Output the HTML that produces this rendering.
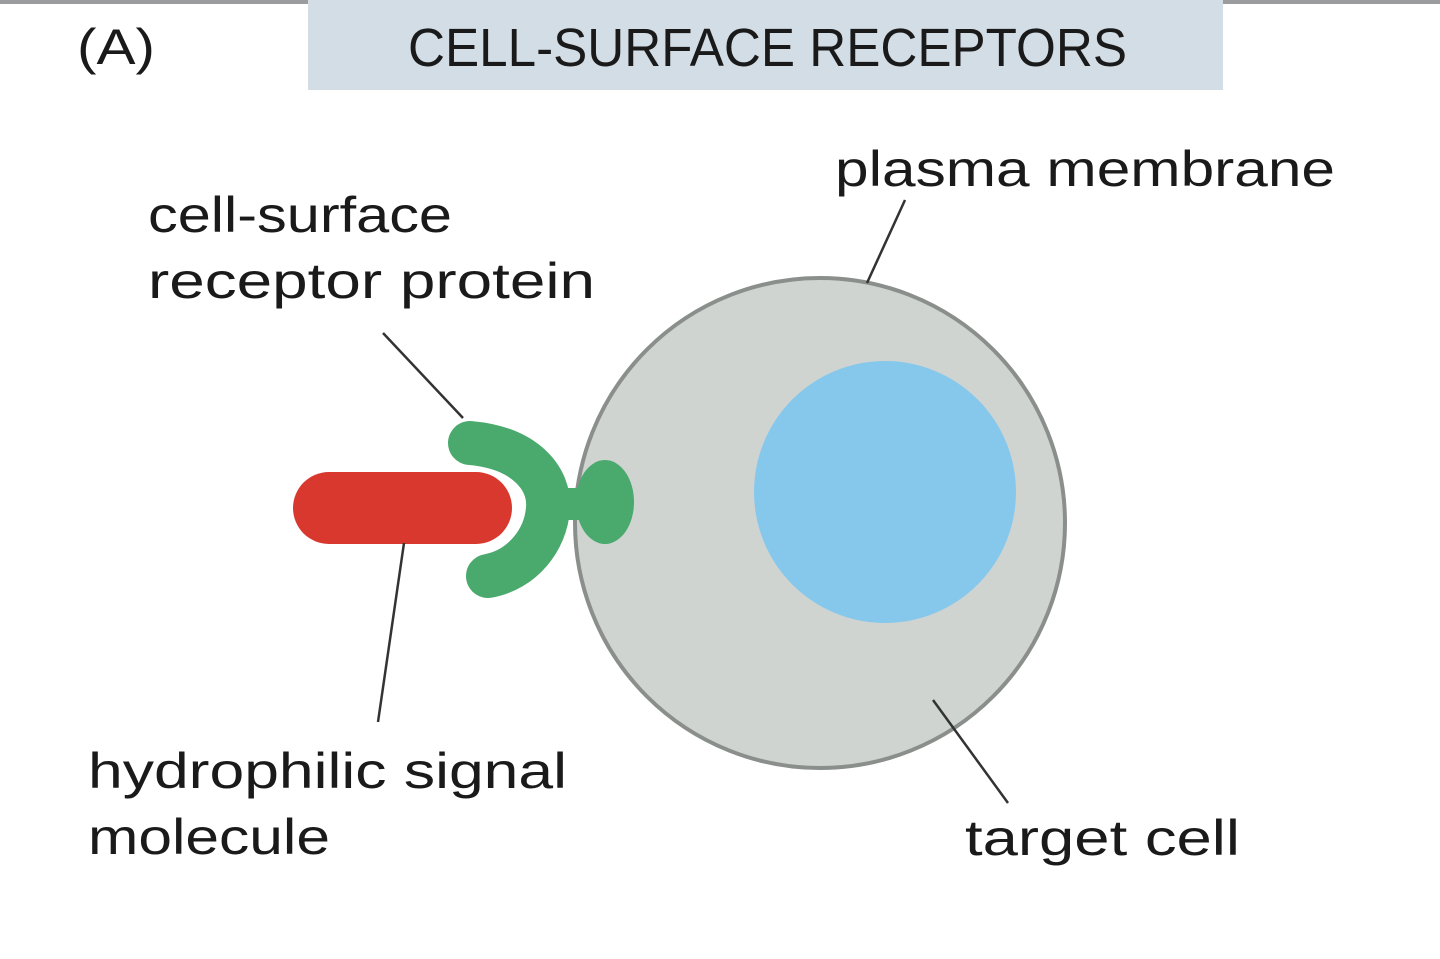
<!DOCTYPE html>
<html><head><style>html,body{margin:0;padding:0;background:#fff}svg{display:block}</style></head>
<body>
<svg width="1440" height="959" viewBox="0 0 1440 959" xmlns="http://www.w3.org/2000/svg" font-family="Liberation Sans, DejaVu Sans, sans-serif" fill="#1a1a1a">
<rect x="0" y="0" width="1440" height="4" fill="#9a9c9e"/>
<rect x="308" y="0" width="915" height="90" fill="#d2dde6"/>
<text x="77" y="64" font-size="50" textLength="78" lengthAdjust="spacingAndGlyphs">(A)</text>
<text x="408" y="66" font-size="54" textLength="719" lengthAdjust="spacingAndGlyphs">CELL-SURFACE RECEPTORS</text>
<circle cx="820" cy="523" r="245" fill="#cfd4d1" stroke="#8a8f8c" stroke-width="4"/>
<circle cx="885" cy="492" r="131" fill="#86c8ec"/>
<rect x="293" y="472" width="219" height="72" rx="36" fill="#d9382f"/>
<path d="M470,443 C527,448 550,480 548,508 C546,540 522,570 488,576" fill="none" stroke="#4aa96c" stroke-width="44" stroke-linecap="round"/>
<rect x="555" y="488" width="40" height="32" fill="#4aa96c"/>
<ellipse cx="605" cy="502" rx="29" ry="42" fill="#4aa96c"/>
<g stroke="#333" stroke-width="2.5">
<line x1="383" y1="333" x2="463" y2="418"/>
<line x1="404" y1="543" x2="378" y2="722"/>
<line x1="905" y1="200" x2="867" y2="283"/>
<line x1="933" y1="700" x2="1008" y2="803"/>
</g>
<g font-size="50">
<text x="835" y="186" textLength="500" lengthAdjust="spacingAndGlyphs">plasma membrane</text>
<text x="148" y="232" textLength="304" lengthAdjust="spacingAndGlyphs">cell-surface</text>
<text x="148" y="298" textLength="447" lengthAdjust="spacingAndGlyphs">receptor protein</text>
<text x="88" y="788" textLength="479" lengthAdjust="spacingAndGlyphs">hydrophilic signal</text>
<text x="88" y="854" textLength="242" lengthAdjust="spacingAndGlyphs">molecule</text>
<text x="965" y="855" textLength="275" lengthAdjust="spacingAndGlyphs">target cell</text>
</g>
</svg>
</body></html>
